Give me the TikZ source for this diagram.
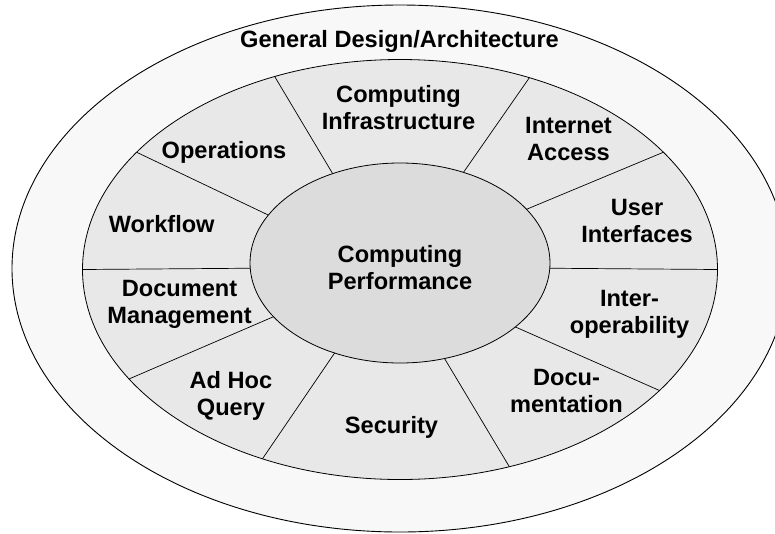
\documentclass[tikz,border=0pt]{standalone}
\usepackage{fontspec}
\setmainfont{Liberation Sans}
\usetikzlibrary{shapes.geometric}
\definecolor{outerfill}{HTML}{F8F8F8}
\definecolor{ringfill}{HTML}{E8E8E8}
\definecolor{corefill}{HTML}{DCDCDC}
\begin{document}
\begin{tikzpicture}[x=1pt,y=1pt,
  lbl/.style={font=\fontsize{23.6}{27}\selectfont\bfseries, align=center, inner sep=0pt},
  oval/.style={ellipse, draw=black, inner sep=0pt, outer sep=0pt, line width=0.8pt},
  divider/.style={draw=black, line width=0.7pt}]
\clip (0,0) rectangle (775,-533);
\node[oval, fill=outerfill, line width=0.9pt, minimum width=776pt, minimum height=527pt] (outer) at (400,-268.5) {};
\node[oval, fill=ringfill, minimum width=635pt, minimum height=420pt] (ring) at (400,-269.5) {};
\node[oval, fill=corefill, minimum width=300pt, minimum height=200pt] (core) at (400,-263) {};
% dividers
\draw[divider] (core.160.2) -- (ring.156.8);
\draw[divider] (core.127.9) -- (ring.123.5);
\draw[divider] (core.55.7) -- (ring.56.9);
\draw[divider] (core.23.4) -- (ring.24.3);
\draw[divider] (core.-2.3) -- (ring.0);
\draw[divider] (core.-29.5) -- (ring.-25.5);
\draw[divider] (core.-65.4) -- (ring.-61.1);
\draw[divider] (core.234.9) -- (ring.234.7);
\draw[divider] (core.203.4) -- (ring.202.1);
\draw[divider] (core.182.3) -- (ring.180);
% labels
\node[lbl] (general) at (399.5,-41.5) {General Design/Architecture};
\node[lbl] (infra) at (398.5,-108) {Computing\\Infrastructure};
\node[lbl] (ops) at (224,-152.2) {Operations};
\node[lbl] (work) at (161.7,-223.8) {Workflow};
\node[lbl] (inet) at (568.5,-139) {Internet\\Access};
\node[lbl] (user) at (637,-220.5) {User\\Interfaces};
\node[lbl] (perf) at (400,-268) {Computing\\Performance};
\node[lbl] (docm) at (179.5,-304.5) {Document\\Management};
\node[lbl] (inter) at (629.5,-314) {Inter-\\operability};
\node[lbl] (adhoc) at (231,-396) {Ad Hoc\\Query};
\node[lbl] (sec) at (391.5,-427.5) {Security};
\node[lbl] (docu) at (566.5,-391) {Docu-\\mentation};
\end{tikzpicture}
\end{document}
